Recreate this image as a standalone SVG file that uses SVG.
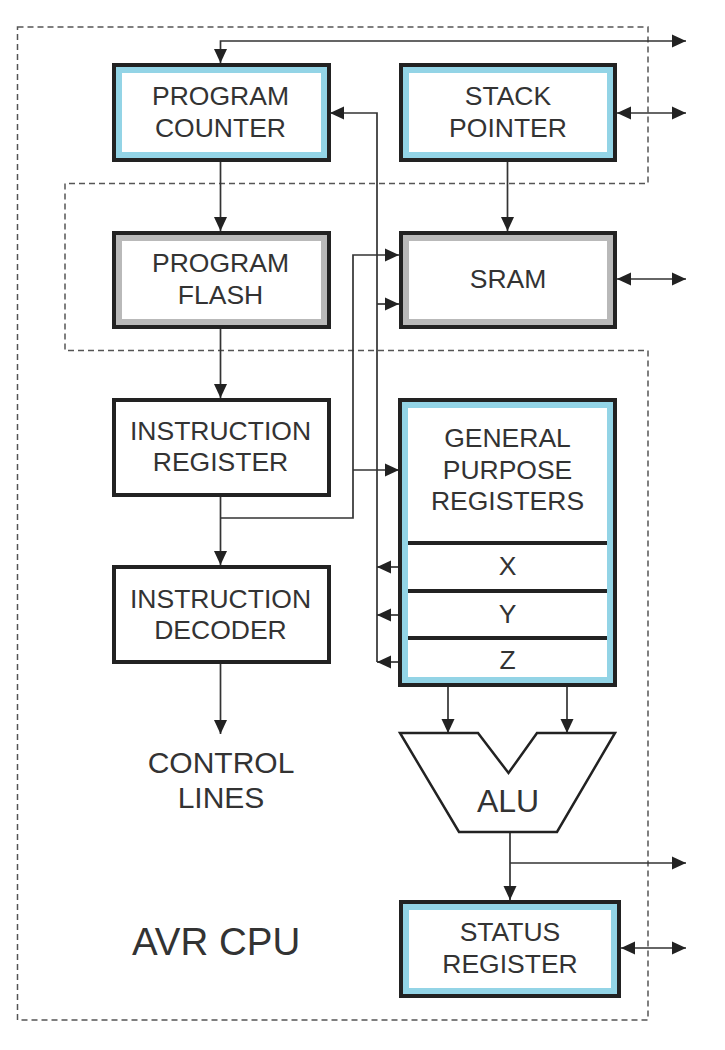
<svg xmlns="http://www.w3.org/2000/svg" width="725" height="1050" viewBox="0 0 725 1050">
<style>
.bk{fill:#fff;stroke:#222;stroke-width:4}
.bb{fill:none;stroke:#93d4e6;stroke-width:6}
.bg{fill:none;stroke:#b9b9b9;stroke-width:6}
.t{font-family:"Liberation Sans",Arial,sans-serif;font-size:26.5px;fill:#333;text-anchor:middle}
.c{fill:none;stroke:#333;stroke-width:1.7}
.dv{stroke:#222;stroke-width:4}
</style>
<defs>
<marker id="ah" markerUnits="userSpaceOnUse" markerWidth="14" markerHeight="14" refX="14" refY="7" orient="auto-start-reverse">
<path d="M0,0.5 L14,7 L0,13.5 z" fill="#222"/>
</marker>
</defs>
<rect width="725" height="1050" fill="#fff"/>
<g id="boundary">
<path d="M17.5,27 H648 V183.5 H65 V350.5 H648 V1020 H17.5 Z" fill="none" stroke="#555" stroke-width="1.5" stroke-dasharray="6,4"/>
</g>
<g id="connectors">
<path class="c" d="M686,41 H220.5 V63" marker-start="url(#ah)" marker-end="url(#ah)"/>
<path class="c" d="M617,113 H686" marker-start="url(#ah)" marker-end="url(#ah)"/>
<path class="c" d="M617,279 H686" marker-start="url(#ah)" marker-end="url(#ah)"/>
<path class="c" d="M621,948 H686" marker-start="url(#ah)" marker-end="url(#ah)"/>
<path class="c" d="M510,863 H686" marker-end="url(#ah)"/>
<path class="c" d="M510,832 V900" marker-end="url(#ah)"/>
<path class="c" d="M448,687 V733" marker-end="url(#ah)"/>
<path class="c" d="M567,687 V733" marker-end="url(#ah)"/>
<path class="c" d="M220.5,162 V231" marker-end="url(#ah)"/>
<path class="c" d="M507.5,162 V231" marker-end="url(#ah)"/>
<path class="c" d="M220.5,329 V398" marker-end="url(#ah)"/>
<path class="c" d="M220.5,497 V565" marker-end="url(#ah)"/>
<path class="c" d="M220.5,664 V734" marker-end="url(#ah)"/>
<path class="c" d="M220.5,518 H353 V255 H399" marker-end="url(#ah)"/>
<path class="c" d="M353,470 H399" marker-end="url(#ah)"/>
<path class="c" d="M377,662 V113 H330" marker-end="url(#ah)"/>
<path class="c" d="M377,304 H399" marker-end="url(#ah)"/>
<path class="c" d="M399,567 H377" marker-end="url(#ah)"/>
<path class="c" d="M399,615 H377" marker-end="url(#ah)"/>
<path class="c" d="M399,662 H377" marker-end="url(#ah)"/>
</g>
<g id="program-counter">
<rect class="bk" x="114" y="65" width="215" height="95"/>
<rect class="bb" x="119" y="70" width="205" height="85"/>
<text class="t" x="220.5" y="105">PROGRAM</text>
<text class="t" x="220.5" y="137">COUNTER</text>
</g>
<g id="stack-pointer">
<rect class="bk" x="401" y="65" width="214" height="95"/>
<rect class="bb" x="406" y="70" width="204" height="85"/>
<text class="t" x="508" y="105">STACK</text>
<text class="t" x="508" y="137">POINTER</text>
</g>
<g id="program-flash">
<rect class="bk" x="114" y="233" width="215" height="94"/>
<rect class="bg" x="119" y="238" width="205" height="84"/>
<text class="t" x="220.5" y="272">PROGRAM</text>
<text class="t" x="220.5" y="304">FLASH</text>
</g>
<g id="sram">
<rect class="bk" x="401" y="233" width="214" height="94"/>
<rect class="bg" x="406" y="238" width="204" height="84"/>
<text class="t" x="508" y="288">SRAM</text>
</g>
<g id="instruction-register">
<rect class="bk" x="114" y="400" width="215" height="95"/>
<text class="t" x="220.5" y="440">INSTRUCTION</text>
<text class="t" x="220.5" y="471">REGISTER</text>
</g>
<g id="instruction-decoder">
<rect class="bk" x="114" y="567" width="215" height="95"/>
<text class="t" x="220.5" y="608">INSTRUCTION</text>
<text class="t" x="220.5" y="639">DECODER</text>
</g>
<g id="general-purpose-registers">
<rect class="bk" x="400" y="400" width="215" height="285"/>
<rect class="bb" x="405" y="405" width="205" height="275"/>
<line class="dv" x1="408" y1="543" x2="607" y2="543"/>
<line class="dv" x1="408" y1="591" x2="607" y2="591"/>
<line class="dv" x1="408" y1="638" x2="607" y2="638"/>
<text class="t" x="507.5" y="447">GENERAL</text>
<text class="t" x="507.5" y="479">PURPOSE</text>
<text class="t" x="507.5" y="510">REGISTERS</text>
<text class="t" x="507.5" y="575">X</text>
<text class="t" x="507.5" y="623">Y</text>
<text class="t" x="507.5" y="669">Z</text>
</g>
<g id="alu">
<polygon points="400,733 478,733 508.5,773 537,733 615,733 557,832 459,832" fill="#fff" stroke="#222" stroke-width="2.5" stroke-linejoin="miter"/>
<text x="508" y="812" font-family="Liberation Sans, Arial, sans-serif" font-size="32" fill="#333" text-anchor="middle">ALU</text>
</g>
<g id="status-register">
<rect class="bk" x="401" y="902" width="218" height="94"/>
<rect class="bb" x="406" y="907" width="208" height="84"/>
<text class="t" x="510" y="941">STATUS</text>
<text class="t" x="510" y="973">REGISTER</text>
</g>
<g id="control-lines">
<text x="221" y="773" font-family="Liberation Sans, Arial, sans-serif" font-size="30" fill="#333" text-anchor="middle">CONTROL</text>
<text x="221" y="808" font-family="Liberation Sans, Arial, sans-serif" font-size="30" fill="#333" text-anchor="middle">LINES</text>
</g>
<g id="avr-cpu-label">
<text x="132" y="955" font-family="Liberation Sans, Arial, sans-serif" font-size="38.5" fill="#333">AVR CPU</text>
</g>
</svg>
